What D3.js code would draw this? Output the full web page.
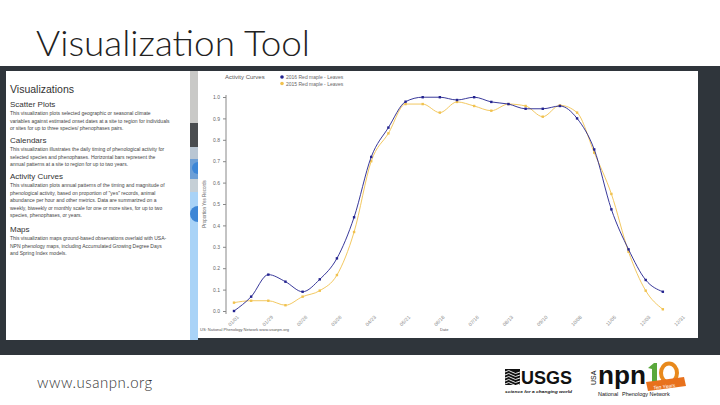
<!DOCTYPE html>
<html>
<head>
<meta charset="utf-8">
<script src="https://cdn.jsdelivr.net/npm/d3@7"></script>
<style>
  body { margin: 0; background: #fff; }
  svg { display: block; }
  .ui { font-family: "Liberation Sans", Arial, sans-serif; }
</style>
</head>
<body>
<div id="slide"></div>
<script>
// dates of the biweekly samples (2015)
var dates = ["01/01","01/15","01/29","02/12","02/26","03/12","03/26","04/09","04/23","05/07","05/21","06/04","06/18",
  "07/02","07/16","07/30","08/13","08/27","09/10","09/24","10/08","10/22","11/05","11/19","12/03","12/17"]
var tickLabels = ["01/01","01/29","02/26","03/26","04/23","05/21","06/18","07/16","08/13","09/10","10/08","11/05","12/03","12/31"]
var yTicks = [0, 0.1, 0.2, 0.3, 0.4, 0.5, 0.6, 0.7, 0.8, 0.9, 1.0]

var series2016 = [0.00, 0.067, 0.17, 0.137, 0.09, 0.148, 0.246, 0.438, 0.72, 0.857, 0.978, 0.999, 0.999,
  0.986, 0.999, 0.977, 0.967, 0.945, 0.945, 0.958, 0.90, 0.755, 0.475, 0.288, 0.145, 0.09]
var series2015 = [0.039, 0.048, 0.048, 0.027, 0.067, 0.095, 0.168, 0.369, 0.70, 0.83, 0.967, 0.967, 0.927,
  0.977, 0.958, 0.936, 0.967, 0.958, 0.908, 0.961, 0.927, 0.74, 0.547, 0.277, 0.095, 0.008]
var seriesNames = ["2016 Red maple - Leaves", "2015 Red maple - Leaves"]
var seriesColors = ["#23238f", "#f1c24f"]

var sections = [
  { head: "Scatter Plots", lines: [
    "This visualization plots selected geographic or seasonal climate",
    "variables against estimated onset dates at a site to region for individuals",
    "or sites for up to three species/ phenophases pairs."] },
  { head: "Calendars", lines: [
    "This visualization illustrates the daily timing of phenological activity for",
    "selected species and phenophases. Horizontal bars represent the",
    "annual patterns at a site to region for up to two years."] },
  { head: "Activity Curves", lines: [
    "This visualization plots annual patterns of the timing and magnitude of",
    "phenological activity, based on proportion of \"yes\" records, animal",
    "abundance per hour and other metrics. Data are summarized on a",
    "weekly, biweekly or monthly scale for one or more sites, for up to two",
    "species, phenophases, or years."] },
  { head: "Maps", lines: [
    "This visualization maps ground-based observations overlaid with USA-",
    "NPN phenology maps, including Accumulated Growing Degree Days",
    "and Spring Index models."] }
]

var width = 720
var height = 405
var parse = d3.timeParse("%m/%d/%Y")

var svg = d3.select("#slide").append("svg")
  .attr("width", width)
  .attr("height", height)

// slide title
svg.append("text")
  .attr("x", 36).attr("y", 56)
  .style("font-family", "Lato, 'Open Sans', sans-serif")
  .style("font-weight", 300)
  .style("font-size", "35px")
  .attr("textLength", 274)
  .attr("lengthAdjust", "spacingAndGlyphs")
  .attr("fill", "#222")
  .text("Visualization Tool")

// screenshot background
svg.append("rect").attr("x", 0).attr("y", 66).attr("width", width).attr("height", 289).attr("fill", "#2f353b")

// left panel
svg.append("rect").attr("x", 6).attr("y", 71).attr("width", 184).attr("height", 269).attr("fill", "#fff")
var left = svg.append("g").attr("class", "ui")
left.append("text").attr("x", 10).attr("y", 93).style("font-size", "10.5px").attr("fill", "#333").text("Visualizations")
var headY = [107, 143, 179, 232]
sections.forEach(function (s, i) {
  left.append("text").attr("x", 10).attr("y", headY[i]).style("font-size", "8px").attr("fill", "#333").text(s.head)
  s.lines.forEach(function (l, j) {
    left.append("text").attr("x", 10).attr("y", headY[i] + 8 + j * 7.6)
      .style("font-size", "5px").attr("fill", "#444").text(l)
  })
})

// map strip
var strip = [[71, 52, "#c9c9c7"], [123, 24, "#4a4d50"], [147, 12, "#b9c6d3"], [159, 20, "#6d9fd6"], [179, 13, "#c5cfd6"], [192, 148, "#a9d3f7"]]
strip.forEach(function (s) {
  svg.append("rect").attr("x", 190).attr("y", s[0]).attr("width", 8).attr("height", s[1]).attr("fill", s[2])
})
svg.append("circle").attr("cx", 198).attr("cy", 168).attr("r", 6).attr("fill", "#3d86d6")
svg.append("circle").attr("cx", 198).attr("cy", 214).attr("r", 8).attr("fill", "#3d86d6")

// chart panel
svg.append("rect").attr("x", 198).attr("y", 71).attr("width", 500).attr("height", 267).attr("fill", "#fff")

var x = d3.scaleTime()
  .domain([parse("01/01/2015"), parse("12/31/2015")])
  .range([234, 680])
var y = d3.scaleLinear().domain([0, 1]).range([311, 97])

var chart = svg.append("g").attr("class", "ui")

chart.append("text").attr("x", 225).attr("y", 79).style("font-size", "6px").attr("fill", "#555").text("Activity Curves")

seriesNames.forEach(function (n, i) {
  chart.append("circle").attr("cx", 282).attr("cy", 77 + i * 6.5).attr("r", 1.8).attr("fill", seriesColors[i])
  chart.append("text").attr("x", 286).attr("y", 79 + i * 6.5).style("font-size", "5px").attr("fill", "#666").text(n)
})

var yAxis = chart.append("g")
  .attr("transform", "translate(226,0)")
  .call(d3.axisLeft(y).tickValues(yTicks).tickSize(3).tickFormat(d3.format(".1f")))
yAxis.selectAll("text").style("font-size", "5px").attr("fill", "#666")
yAxis.selectAll("line,path").attr("stroke", "#888")
yAxis.select(".domain").attr("d", "M0,95V314")

chart.append("text")
  .attr("transform", "translate(206,204) rotate(-90)")
  .attr("text-anchor", "middle")
  .style("font-size", "4.5px").attr("fill", "#666")
  .text("Proportion Yes Records")

var xAxis = chart.append("g")
  .attr("transform", "translate(0,311)")
  .call(d3.axisBottom(x).tickValues(tickLabels.map(function (t) { return parse(t + "/2015") }))
    .tickSize(0).tickFormat(d3.timeFormat("%m/%d")))
xAxis.select(".domain").remove()
xAxis.selectAll("text")
  .style("font-size", "5px").attr("fill", "#888")
  .attr("text-anchor", "end")
  .attr("transform", "translate(0,2) rotate(-45)")

chart.append("text").attr("x", 200).attr("y", 331).style("font-size", "4px").attr("fill", "#555")
  .text("US: National Phenology Network www.usanpn.org")
chart.append("text").attr("x", 440).attr("y", 331).style("font-size", "4px").attr("fill", "#555").text("Date")

var line = d3.line()
  .x(function (d) { return x(d.date) })
  .y(function (d) { return y(d.value) })
  .curve(d3.curveMonotoneX)

;[series2015, series2016].forEach(function (s, k) {
  var i = k == 0 ? 1 : 0
  var pts = s.map(function (v, j) { return { date: parse(dates[j] + "/2015"), value: v } })
  chart.append("path").datum(pts)
    .attr("d", line)
    .attr("fill", "none")
    .attr("stroke", seriesColors[i])
    .attr("stroke-width", 0.9)
  chart.selectAll(".pt" + i).data(pts).enter().append("rect")
    .attr("x", function (d) { return x(d.date) - 1.2 })
    .attr("y", function (d) { return y(d.value) - 1.2 })
    .attr("width", 2.4).attr("height", 2.4)
    .attr("fill", seriesColors[i])
})

// footer
svg.append("text")
  .attr("x", 37).attr("y", 388)
  .style("font-family", "Lato, 'Open Sans', sans-serif")
  .style("font-weight", 300)
  .style("font-size", "15px")
  .attr("fill", "#333")
  .attr("letter-spacing", "0.5px")
  .text("www.usanpn.org")

// USGS logo
var usgs = svg.append("g")
usgs.append("rect").attr("x", 505).attr("y", 369).attr("width", 15).attr("height", 16).attr("fill", "#111")
for (var k = 0; k < 5; k++) {
  usgs.append("path")
    .attr("d", "M505," + (372 + k * 3) + " q4,-3 7,0 t8,0")
    .attr("stroke", "#fff").attr("stroke-width", 0.9).attr("fill", "none")
}
usgs.append("text").attr("x", 521).attr("y", 384)
  .style("font-family", "'Liberation Sans Narrow', 'Liberation Sans', sans-serif")
  .style("font-weight", "bold").style("font-size", "19px").attr("fill", "#111")
  .attr("textLength", 51).attr("lengthAdjust", "spacingAndGlyphs")
  .text("USGS")
usgs.append("text").attr("x", 505).attr("y", 393)
  .style("font-family", "'Liberation Sans', sans-serif")
  .style("font-style", "italic").style("font-weight", "bold").style("font-size", "4.4px").attr("fill", "#111")
  .attr("textLength", 67).attr("lengthAdjust", "spacingAndGlyphs")
  .text("science for a changing world")

// NPN logo
var npn = svg.append("g")
npn.append("text")
  .attr("transform", "translate(596,385) rotate(-90)")
  .style("font-family", "'Liberation Sans', sans-serif").style("font-size", "7px").attr("fill", "#111")
  .text("USA")
npn.append("text").attr("x", 598).attr("y", 384)
  .style("font-family", "'Liberation Sans', sans-serif")
  .style("font-weight", "bold").style("font-size", "26px").attr("fill", "#111")
  .attr("textLength", 48).attr("lengthAdjust", "spacingAndGlyphs")
  .text("npn")
// the "10" anniversary mark
npn.append("path").attr("d", "M648,368 L654,363 L657,363 L657,382 L652,382 L652,369 Z").attr("fill", "#5aa83c")
npn.append("ellipse").attr("cx", 669).attr("cy", 373).attr("rx", 8).attr("ry", 9.5)
  .attr("fill", "none").attr("stroke", "#e8891c").attr("stroke-width", 4)
npn.append("path").attr("d", "M646,382 L684,377 L686,386 L648,391 Z").attr("fill", "#e8711c")
npn.append("text").attr("x", 653).attr("y", 388)
  .attr("transform", "rotate(-7,666,385)")
  .style("font-family", "'Liberation Sans', sans-serif")
  .style("font-style", "italic").style("font-size", "5px").attr("fill", "#fff")
  .text("Ten Years")
npn.append("text").attr("x", 598).attr("y", 396)
  .style("font-family", "'Liberation Sans', sans-serif").style("font-size", "5.5px").attr("fill", "#111")
  .text("National")
npn.append("text").attr("x", 622).attr("y", 396)
  .style("font-family", "'Liberation Sans', sans-serif").style("font-size", "5.5px").attr("fill", "#111")
  .text("Phenology Network")
</script>
</body>
</html>
